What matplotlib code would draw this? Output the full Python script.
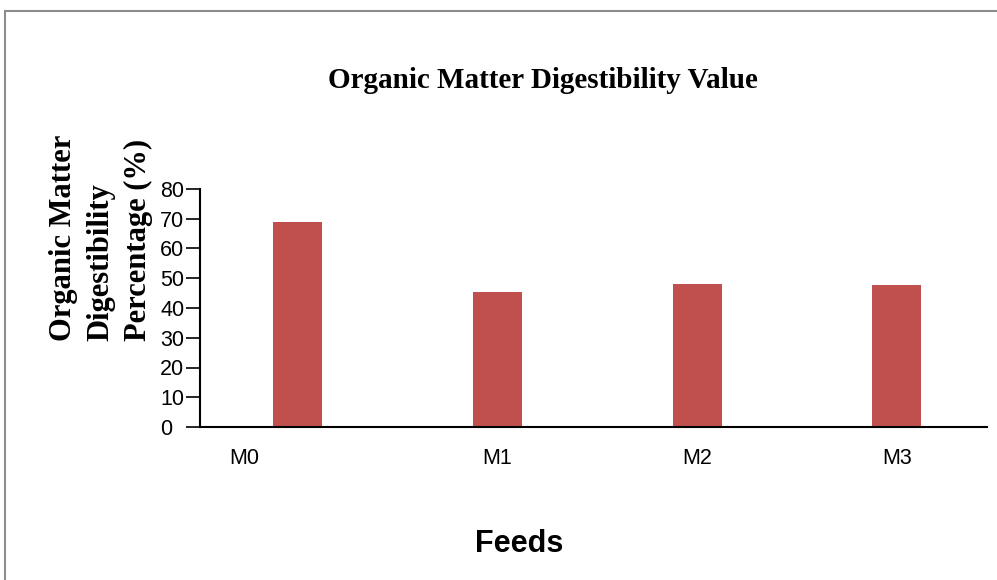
import matplotlib
matplotlib.use("Agg")
import matplotlib.pyplot as plt
from matplotlib.patches import Rectangle
from matplotlib.transforms import ScaledTranslation

categories = ["M0", "M1", "M2", "M3"]
values = [68.8, 45.4, 48.2, 47.6]
y_ticks = [0, 10, 20, 30, 40, 50, 60, 70, 80]

title = "Organic Matter Digestibility Value"
y_label = "Organic Matter\nDigestibility\nPercentage (%)"
x_label = "Feeds"

W, H = 997, 580
fig = plt.figure(figsize=(W / 100, H / 100), dpi=100)

# outer gray border (frame of the original chart area)
fig.patches.append(Rectangle((5 / W, -0.1), 1.2, 1 - 11 / H + 0.1,
                             transform=fig.transFigure, fill=False,
                             edgecolor="#8c8c8c", linewidth=1.5))

ax = fig.add_axes([200 / W, 1 - 427 / H, (987 - 200) / W, (427 - 189) / H])
x = list(range(len(categories)))
ax.bar(x, values, width=0.245, color="#c0504d", edgecolor="none")

ax.set_xlim(-0.488, 3.451)
ax.set_ylim(0, 80)
ax.set_yticks(y_ticks)
ax.set_yticklabels([str(t) for t in y_ticks], fontsize=15.5, family="Liberation Sans",
                   ha="left")
ax.tick_params(axis="y", length=10, width=1.2, direction="out", pad=18.8)
ax.set_xticks(x)
ax.set_xticklabels(categories, fontsize=15.5, family="Liberation Sans")
ax.tick_params(axis="x", length=0, pad=15)
# first category label sits left of its bar in the original
lbl0 = ax.get_xticklabels()[0]
lbl0.set_transform(lbl0.get_transform() + ScaledTranslation(-0.53, 0, fig.dpi_scale_trans))

for s in ["top", "right"]:
    ax.spines[s].set_visible(False)
ax.spines["left"].set_linewidth(1.5)
ax.spines["bottom"].set_linewidth(1.5)

fig.text(543 / W, 1 - 88 / H, title, ha="center", va="baseline",
         fontsize=21, fontweight="bold", family="Liberation Serif")
fig.text(101 / W, 1 - 238 / H, y_label, ha="center", va="center", rotation=90,
         multialignment="left", linespacing=1.38,
         fontsize=22, fontweight="bold", family="Liberation Serif")
fig.text(519 / W, 1 - 552 / H, x_label, ha="center", va="baseline",
         fontsize=22, fontweight="bold", family="Liberation Sans")

fig.savefig("out.png", dpi=100)
